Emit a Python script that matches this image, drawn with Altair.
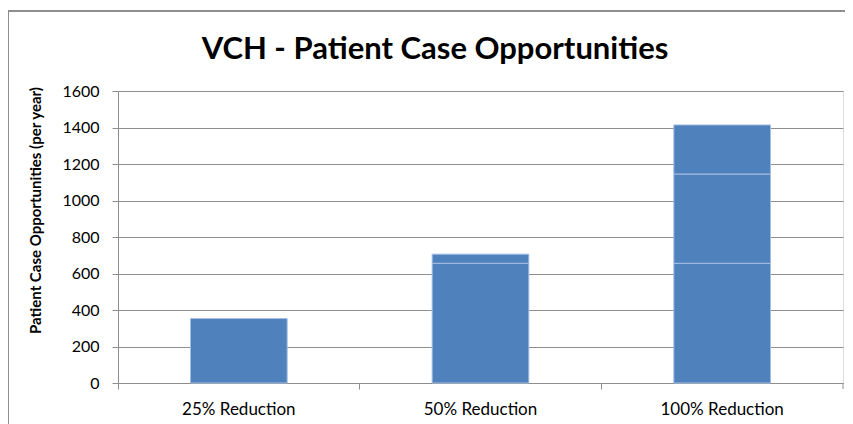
import altair as alt
import pandas as pd

categories = ["25% Reduction", "50% Reduction", "100% Reduction"]
segment_1 = [353, 656, 656]
segment_2 = [0, 50, 489]
segment_3 = [0, 0, 269]
y_ticks = [0, 200, 400, 600, 800, 1000, 1200, 1400, 1600]
chart_title = "VCH - Patient Case Opportunities"

rows = []
for i, c in enumerate(categories):
    for k, seg in enumerate([segment_1, segment_2, segment_3]):
        if seg[i] > 0:
            rows.append({"category": c, "segment": k, "value": seg[i]})
df = pd.DataFrame(rows)

FONT = "Lato"
GRAY = "#8E8E8E"
W, H = 725, 292

bars = alt.Chart(df).mark_bar(
    width=alt.RelativeBandSize(0.4), color="#4F81BD", stroke="#A3BEE3", strokeWidth=1
).encode(
    x=alt.X("category:N", sort=categories, title=None,
            scale=alt.Scale(paddingInner=0, paddingOuter=0),
            axis=alt.Axis(labelAngle=0, bandPosition=0, labelFontSize=17, labelFont=FONT,
                          labelColor="#000", tickColor=GRAY, tickSize=6, domainColor=GRAY,
                          labelPadding=12, grid=False)),
    y=alt.Y("value:Q", stack="zero",
            scale=alt.Scale(domain=[0, 1600], nice=False),
            axis=alt.Axis(values=y_ticks, format="d",
                          title="Patient Case Opportunities (per year)",
                          titleFont=FONT, titleFontSize=15, titleFontWeight="bold",
                          titleColor="#000", titleX=-78, titleY=119, titleAngle=-90,
                          titleBaseline="alphabetic", titleAlign="center",
                          labelFontSize=16, labelFont=FONT, labelColor="#000",
                          tickColor=GRAY, tickSize=6, labelPadding=13,
                          domainColor=GRAY, gridColor=GRAY)),
    order=alt.Order("segment:O"),
)

end_tick = alt.Chart(alt.Data(values=[{}])).mark_rule(color=GRAY).encode(
    x=alt.value(W), y=alt.value(H), y2=alt.value(H + 6)
)

border = alt.Chart(alt.Data(values=[{}])).mark_rect(
    fillOpacity=0, stroke=GRAY, strokeWidth=2
).encode(
    x=alt.value(-110), x2=alt.value(760), y=alt.value(-80), y2=alt.value(360)
)

title = alt.Chart(alt.Data(values=[{"t": chart_title}])).mark_text(
    font=FONT, fontSize=31, fontWeight="bold", color="#000", align="center",
    baseline="alphabetic"
).encode(text="t:N", x=alt.value(317), y=alt.value(-32))

chart = alt.layer(border, bars, end_tick, title).properties(
    width=W, height=H,
    autosize=alt.AutoSizeParams(type="none"),
    padding={"left": 110, "top": 83, "right": 2, "bottom": 41},
).configure_view(stroke=None).configure(background="white")

chart.save("out.html", embed_options={"renderer": "svg", "actions": False})
